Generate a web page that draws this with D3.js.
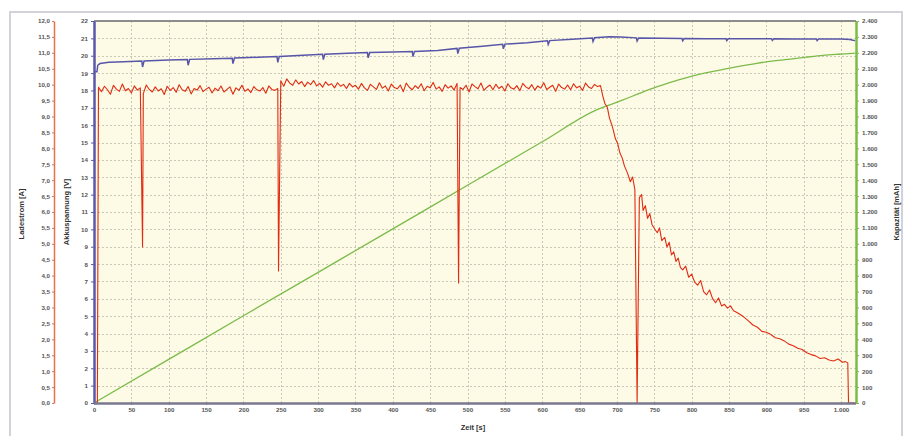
<!DOCTYPE html>
<html>
<head>
<meta charset="utf-8">
<script src="https://cdn.jsdelivr.net/npm/d3@7"></script>
<style>
  html, body { margin: 0; padding: 0; background: #ffffff; }
  svg { display: block; }
  .tick text { font-family: "Liberation Sans", Arial, sans-serif; font-weight: bold; font-size: 6.2px; fill: #555; }
  .title { font-family: "Liberation Sans", Arial, sans-serif; font-weight: bold; font-size: 7.5px; fill: #333; }
</style>
</head>
<body>
<svg id="chart" width="911" height="436"></svg>
<script>
// ---------------- DATA ----------------
const timeTicks = d3.range(0, 1001, 50);            // Zeit [s]
const voltTicks = d3.range(0, 23, 1);               // Akkuspannung [V]
const ampTicks = d3.range(0, 12.01, 0.5);           // Ladestrom [A]
const capTicks = d3.range(0, 2401, 100);            // Kapazität [mAh]

// Akkuspannung [V]
const voltTime = [0, 4, 5, 8, 20, 40, 64, 65, 67, 100, 125, 126, 128, 160, 185, 186, 188, 220, 245, 246, 248,
  280, 306, 307, 309, 340, 366, 367, 369, 400, 426, 427, 429, 460, 486, 487, 489, 520, 547, 548, 550,
  580, 607, 608, 610, 640, 667, 668, 670, 690, 705, 726, 727, 729, 760, 787, 788, 790, 820, 846, 847, 849,
  880, 907, 908, 910, 940, 967, 968, 970, 1000, 1012, 1016, 1019];
const voltValue = [19.08, 19.08, 19.45, 19.55, 19.62, 19.66, 19.69, 19.35, 19.70, 19.75, 19.78, 19.45, 19.79, 19.83, 19.86, 19.55, 19.87, 19.91, 19.95, 19.62, 19.96,
  20.03, 20.08, 19.78, 20.09, 20.14, 20.18, 19.88, 20.19, 20.21, 20.24, 19.95, 20.25, 20.30, 20.42, 20.12, 20.43, 20.55, 20.66, 20.40, 20.67,
  20.75, 20.86, 20.65, 20.87, 20.95, 21.02, 20.82, 21.04, 21.10, 21.08, 21.03, 20.85, 21.02, 21.00, 20.99, 20.86, 20.99, 20.98, 20.98, 20.87, 20.98,
  20.98, 20.98, 20.88, 20.98, 20.97, 20.97, 20.87, 20.97, 20.96, 20.93, 20.89, 20.87];

// Ladestrom [A]
const leadTime = [0, 4.5];
const leadAmps = [0, 0];
const plateauStart = 6;
const plateauStep = 4;
const plateauAmps = [
  9.92, 9.78, 9.95, 9.84, 9.70, 9.98, 9.86, 9.79, 10.02, 9.81,
  9.88, 9.74, 9.96, 9.83, 9.90, 9.72, 9.99, 9.85, 9.77, 9.93,
  9.80, 9.87, 9.69, 9.95, 9.82, 9.91, 9.76, 10.00, 9.84, 9.79,
  9.94, 9.71, 9.88, 9.83, 9.97, 9.78, 9.86, 9.92, 9.74, 9.89,
  9.81, 9.96, 9.77, 9.85, 9.93, 9.70, 9.90, 9.82, 9.98, 9.79,
  9.87, 9.75, 9.94, 9.84, 9.80, 9.91, 9.73, 9.96, 9.85, 9.82,
  9.88,
  10.12, 9.95, 10.18, 10.05, 9.98, 10.15, 10.02, 10.10, 9.94, 10.08,
  10.00, 10.13, 9.96, 10.04, 9.92, 10.09, 9.98, 10.03, 9.90, 10.06,
  9.95, 10.01, 9.88, 10.04, 9.93,
  9.98, 9.86, 10.04, 9.90, 9.82, 10.01, 9.93, 9.85, 10.06, 9.89,
  9.96, 9.80, 10.02, 9.91, 9.87, 9.99, 9.78, 10.05, 9.92, 9.84,
  9.97, 9.88, 10.03, 9.81, 9.95, 9.90, 10.07, 9.86, 9.93, 9.79,
  10.00, 9.89, 9.96, 9.83, 10.04, 9.91, 9.85, 9.98, 9.77, 10.02,
  9.94, 9.87, 10.05, 9.82, 9.92, 9.99, 9.84, 10.01, 9.88, 9.95,
  9.80, 10.03, 9.90, 9.86, 9.97, 9.81, 10.04, 9.93, 9.87, 10.00,
  9.83, 9.96, 9.89, 10.06, 9.85, 9.92, 9.98, 9.79, 10.02, 9.91,
  9.86, 9.99, 9.84, 10.03, 9.90, 9.95, 9.82, 10.05, 9.93, 9.88,
  10.01, 9.94, 9.97
];
const spikeTime = [65, 247, 488, 727];
const spikeAmps = [4.90, 4.15, 3.77, 0];
const decayTime = [681, 684, 687, 690, 693, 695, 698, 701, 704, 707, 710, 714, 718, 721, 724, 730, 733, 735, 738, 741,
  744, 747, 751, 754, 757, 760, 764, 767, 770, 773, 776, 779, 782, 785, 788, 792, 796, 800, 804, 808,
  812, 816, 820, 824, 828, 832, 836, 840, 844, 848, 852, 856, 860, 865, 870, 876, 882, 888, 894, 900,
  906, 912, 918, 924, 930, 936, 942, 948, 954, 960, 966, 972, 978, 984, 990, 996, 1002, 1006, 1009, 1010, 1019];
const decayAmps = [9.65, 9.40, 9.30, 8.95, 8.75, 8.58, 8.30, 8.15, 7.85, 7.70, 7.45, 7.23, 6.95, 7.10, 6.70, 6.45, 6.55, 6.05, 6.20, 5.80,
  5.95, 5.60, 5.45, 5.35, 5.50, 5.10, 5.20, 4.90, 5.05, 4.65, 4.75, 4.45, 4.55, 4.25, 4.18, 4.30, 3.95, 4.05, 3.80, 3.70,
  3.85, 3.50, 3.40, 3.55, 3.28, 3.15, 3.30, 3.05, 3.10, 2.98, 3.05, 2.90, 2.85, 2.78, 2.70, 2.58, 2.45, 2.38, 2.25, 2.22,
  2.15, 2.05, 2.02, 1.95, 1.85, 1.80, 1.72, 1.68, 1.58, 1.52, 1.48, 1.40, 1.42, 1.35, 1.32, 1.38, 1.28, 1.30, 1.26, 0, 0];

// Kapazität [mAh]
const capTime = [0, 100, 200, 300, 400, 500, 600, 675, 687, 708, 730, 754, 776, 798, 820, 842, 865, 887, 910, 932, 954, 976, 996, 1016, 1019];
const capValue = [0, 274, 548, 821, 1094, 1368, 1641, 1846, 1868, 1904, 1945, 1987, 2020, 2050, 2075, 2096, 2116, 2134, 2149, 2161, 2173, 2184, 2191, 2197, 2198];

// ---------------- BUILD TABLES ----------------
const voltData = voltTime.map((t, i) => ({ t, v: voltValue[i] }));
const capData = capTime.map((t, i) => ({ t, v: capValue[i] }));
const ampData = []
  .concat(leadTime.map((t, i) => ({ t, v: leadAmps[i] })))
  .concat(plateauAmps.map((v, i) => ({ t: plateauStart + i * plateauStep, v })))
  .concat(spikeTime.map((t, i) => ({ t, v: spikeAmps[i] })))
  .concat(decayTime.map((t, i) => ({ t, v: decayAmps[i] })))
  .sort((a, b) => a.t - b.t);

// ---------------- LAYOUT ----------------
const L = 94, R = 856, T = 21, B = 403;
const svg = d3.select("#chart");

const x = d3.scaleLinear().domain([0, 1020]).range([L, R]);
const yV = d3.scaleLinear().domain([0, 22]).range([B, T]);
const yI = d3.scaleLinear().domain([0, 12]).range([B, T]);
const yC = d3.scaleLinear().domain([0, 2400]).range([B, T]);

const de = d3.formatLocale({ decimal: ",", thousands: ".", grouping: [3], currency: ["", "€"] });
const fmtInt = de.format(",d");
const fmtDec = de.format(".1f");

// outer frame
svg.append("rect").attr("x", 10).attr("y", 12).attr("width", 892).attr("height", 440)
  .attr("fill", "#fff").attr("stroke", "#d2d3da").attr("stroke-width", 2);

// plot background
svg.append("rect").attr("x", L).attr("y", T).attr("width", R - L).attr("height", B - T)
  .attr("fill", "#fdfbe6");

// grid
const grid = svg.append("g").attr("stroke", "#c9c9b8").attr("stroke-width", 1).attr("stroke-dasharray", "2,2");
grid.selectAll("line.h").data(voltTicks.filter(d => d > 0 && d < 22)).enter().append("line")
  .attr("x1", L).attr("x2", R).attr("y1", d => Math.round(yV(d)) + 0.5).attr("y2", d => Math.round(yV(d)) + 0.5);
grid.selectAll("line.v").data(timeTicks.filter(d => d > 0)).enter().append("line")
  .attr("y1", T).attr("y2", B).attr("x1", d => Math.round(x(d)) + 0.5).attr("x2", d => Math.round(x(d)) + 0.5);

// top border
svg.append("line").attr("x1", L).attr("x2", R).attr("y1", T).attr("y2", T)
  .attr("stroke", "#8c8c8c").attr("stroke-width", 2);

// series
const line = (ys) => d3.line().x(d => x(d.t)).y(d => ys(d.v));
svg.append("path").datum(capData).attr("d", line(yC).curve(d3.curveMonotoneX))
  .attr("fill", "none").attr("stroke", "#7cbb4a").attr("stroke-width", 1.3);
svg.append("path").datum(ampData).attr("d", line(yI))
  .attr("fill", "none").attr("stroke", "#e02c12").attr("stroke-width", 1.1).attr("stroke-linejoin", "round");
svg.append("path").datum(voltData).attr("d", line(yV))
  .attr("fill", "none").attr("stroke", "#5856a8").attr("stroke-width", 1.5);

// axes
function styleAxis(g, color, width) {
  g.select(".domain").attr("stroke", color).attr("stroke-width", width);
  g.selectAll(".tick line").attr("stroke", color);
}
const axI = svg.append("g").attr("transform", `translate(54,0)`)
  .call(d3.axisLeft(yI).tickValues(ampTicks).tickFormat(fmtDec).tickSize(2).tickSizeOuter(0).tickPadding(2));
styleAxis(axI, "#e8714d", 1.5);

const axV = svg.append("g").attr("transform", `translate(${L},0)`)
  .call(d3.axisLeft(yV).tickValues(voltTicks).tickFormat(d3.format("d")).tickSize(3).tickSizeOuter(0).tickPadding(3));
styleAxis(axV, "#5a58aa", 2.5);

const axC = svg.append("g").attr("transform", `translate(${R},0)`)
  .call(d3.axisRight(yC).tickValues(capTicks).tickFormat(fmtInt).tickSize(3).tickSizeOuter(0).tickPadding(3));
styleAxis(axC, "#7cbb4a", 2.5);

const axX = svg.append("g").attr("transform", `translate(0,${B})`)
  .call(d3.axisBottom(x).tickValues(timeTicks).tickFormat(fmtInt).tickSize(2).tickSizeOuter(0).tickPadding(3));
styleAxis(axX, "#7a7890", 2.5);
axX.select(".domain").attr("d", `M${L},0.5H${R}`);

// titles
svg.append("text").attr("class", "title").attr("text-anchor", "middle")
  .attr("transform", "translate(24,214) rotate(-90)").text("Ladestrom [A]");
svg.append("text").attr("class", "title").attr("text-anchor", "middle")
  .attr("transform", "translate(69,212) rotate(-90)").text("Akkuspannung [V]");
svg.append("text").attr("class", "title").attr("text-anchor", "middle")
  .attr("transform", "translate(899,212) rotate(-90)").text("Kapazität [mAh]");
svg.append("text").attr("class", "title").attr("text-anchor", "middle")
  .attr("x", 473).attr("y", 430).text("Zeit [s]");
</script>
</body>
</html>
